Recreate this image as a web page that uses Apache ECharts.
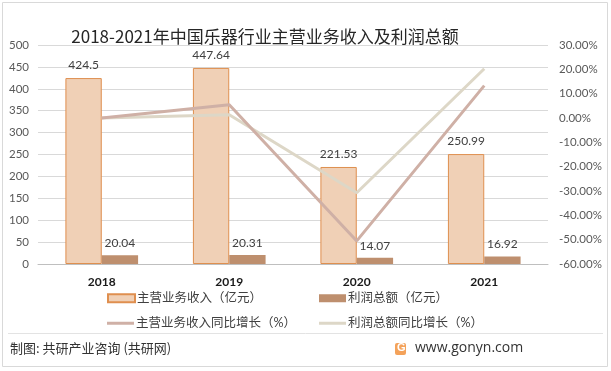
<!DOCTYPE html>
<html><head><meta charset="utf-8">
<script src="https://cdn.jsdelivr.net/npm/echarts@6/dist/echarts.min.js"></script>
<style>html,body{margin:0;padding:0;background:#fff}#c{width:611px;height:371px}</style>
</head><body><div id="c"></div>
<script>
var categories = ['2018', '2019', '2020', '2021'];
var revenue = [424.5, 447.64, 221.53, 250.99];
var profit = [20.04, 20.31, 14.07, 16.92];
var revenueYoY = [0, 5.45, -50.51, 13.30];
var profitYoY = [0, 1.35, -30.72, 20.26];
var seriesNames = ['主营业务收入（亿元）', '利润总额（亿元）', '主营业务收入同比增长（%）', '利润总额同比增长（%）'];

var FF = 'Lato, "Noto Sans CJK SC", sans-serif';
var chart = echarts.init(document.getElementById('c'), null, {renderer: 'canvas'});
function lg(name, left, top, icon, h) {
  return {show: true, data: [name], left: left, top: top, icon: icon, itemWidth: 27, itemHeight: h,
    padding: 0, itemGap: 0, textStyle: {fontFamily: FF, fontSize: 12.5, color: '#404040', padding: [0, 0, 0, -3]}};
}
chart.setOption({
  animation: false,
  title: {text: '2018-2021年中国乐器行业主营业务收入及利润总额', left: 260, top: 23, textAlign: 'center',
    textStyle: {fontFamily: '"Noto Sans CJK SC", sans-serif', fontSize: 17, fontWeight: 'normal', color: '#262626'}},
  grid: {left: 38, right: 63, top: 45, bottom: 107},
  legend: [
    lg(seriesNames[0], 107, 292, 'rect', 8),
    lg(seriesNames[1], 319, 292, 'rect', 8),
    lg(seriesNames[2], 107, 317, 'rect', 3),
    lg(seriesNames[3], 319, 317, 'rect', 3)
  ],
  xAxis: {type: 'category', data: categories,
    axisLine: {lineStyle: {color: '#BFBFBF'}}, axisTick: {show: false},
    axisLabel: {fontFamily: FF, fontSize: 12, fontWeight: 'bold', color: '#1a1a1a', margin: 12}},
  yAxis: [
    {type: 'value', min: 0, max: 500, interval: 50,
      axisLine: {show: false}, axisTick: {show: false},
      axisLabel: {fontFamily: FF, fontSize: 11.5, color: '#595959', margin: 9},
      splitLine: {lineStyle: {color: '#D9D9D9'}}},
    {type: 'value', min: -60, max: 30, interval: 10, position: 'right',
      axisLine: {show: false}, axisTick: {show: false}, splitLine: {show: false},
      axisLabel: {fontFamily: FF, fontSize: 11.5, color: '#595959', margin: 11,
        formatter: function (v) { return v.toFixed(2) + '%'; }}}
  ],
  series: [
    {name: seriesNames[0], type: 'bar', data: revenue, barGap: '0%', barCategoryGap: '43%',
      itemStyle: {color: '#F0D0B6', borderColor: '#DF8F4F', borderWidth: 1},
      label: {show: true, position: 'top', distance: 7, fontFamily: FF, fontSize: 12, color: '#404040'}},
    {name: seriesNames[1], type: 'bar', data: profit,
      itemStyle: {color: '#BE8F6E'},
      label: {show: true, position: 'top', distance: 6, fontFamily: FF, fontSize: 12, color: '#404040'}},
    {name: seriesNames[2], type: 'line', yAxisIndex: 1, data: revenueYoY, showSymbol: false, symbol: 'none',
      lineStyle: {color: '#CFB0A6', width: 3}, itemStyle: {color: '#CFB0A6'}, z: 5},
    {name: seriesNames[3], type: 'line', yAxisIndex: 1, data: profitYoY, showSymbol: false, symbol: 'none',
      lineStyle: {color: '#DDD7C7', width: 3}, itemStyle: {color: '#DDD7C7'}, z: 4}
  ],
  graphic: [
    {type: 'rect', shape: {x: 2.5, y: 2.5, width: 605, height: 364}, style: {fill: null, stroke: '#D9D9D9', lineWidth: 1}, silent: true},
    {type: 'line', shape: {x1: 8, y1: 333.5, x2: 603, y2: 333.5}, style: {stroke: '#E3E3E3', lineWidth: 1}, silent: true},
    {type: 'text', left: 10, top: 342, style: {text: '制图: 共研产业咨询 (共研网)', font: '13px "Noto Sans CJK SC", sans-serif', fill: '#333333'}},
    {type: 'rect', shape: {x: 395, y: 343, width: 11, height: 12, r: 2}, style: {fill: '#F4A25A'}},
    {type: 'text', left: 397, top: 342, style: {text: 'G', font: 'bold 11px sans-serif', fill: '#ffffff'}},
    {type: 'text', left: 415, top: 341, style: {text: 'www.gonyn.com', font: '14px "Open Sans", sans-serif', fill: '#333333'}}
  ]
});
</script></body></html>
